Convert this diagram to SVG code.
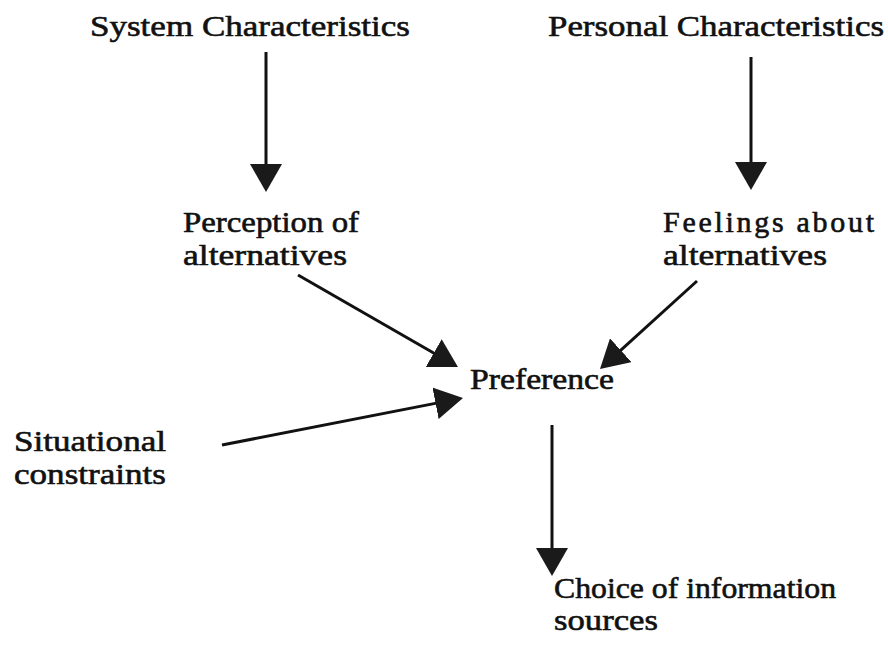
<svg xmlns="http://www.w3.org/2000/svg" width="888" height="647" viewBox="0 0 888 647">
<style>
  .lbl { font-family: "Liberation Serif", "DejaVu Serif", serif; font-size: 30px; fill: #111; stroke: #111; stroke-width: 0.6px; }
  .conn { stroke: #111; stroke-width: 3; fill: none; }
</style>
<defs>
  <marker id="head" viewBox="0 0 28 32" refX="18" refY="16" markerWidth="28" markerHeight="32" markerUnits="userSpaceOnUse" orient="auto">
    <path d="M0,0 L28,16 L0,32 z" fill="#1a1a1a"/>
  </marker>
</defs>
<rect width="888" height="647" fill="#fff"/>
<g id="system">
  <text class="lbl" x="90" y="36" textLength="320" lengthAdjust="spacingAndGlyphs">System Characteristics</text>
</g>
<g id="personal">
  <text class="lbl" x="548" y="36" textLength="336" lengthAdjust="spacingAndGlyphs">Personal Characteristics</text>
</g>
<g id="perception">
  <text class="lbl" x="183" y="232" textLength="176" lengthAdjust="spacingAndGlyphs">Perception of</text>
  <text class="lbl" x="183" y="265" textLength="164" lengthAdjust="spacingAndGlyphs">alternatives</text>
</g>
<g id="feelings">
  <text class="lbl" x="663" y="232" textLength="211" lengthAdjust="spacing">Feelings about</text>
  <text class="lbl" x="663" y="265" textLength="164" lengthAdjust="spacingAndGlyphs">alternatives</text>
</g>
<g id="preference">
  <text class="lbl" x="470" y="389" textLength="144" lengthAdjust="spacingAndGlyphs">Preference</text>
</g>
<g id="situational">
  <text class="lbl" x="14" y="451" textLength="152" lengthAdjust="spacingAndGlyphs">Situational</text>
  <text class="lbl" x="14" y="484" textLength="152" lengthAdjust="spacingAndGlyphs">constraints</text>
</g>
<g id="choice">
  <text class="lbl" x="554" y="598" textLength="282" lengthAdjust="spacingAndGlyphs">Choice of information</text>
  <text class="lbl" x="554" y="630" textLength="104" lengthAdjust="spacingAndGlyphs">sources</text>
</g>
<g id="connectors">
  <line class="conn" x1="266" y1="52" x2="266" y2="182" marker-end="url(#head)"/>
  <line class="conn" x1="751" y1="57" x2="751" y2="180" marker-end="url(#head)"/>
  <line class="conn" x1="298" y1="275" x2="449.3" y2="362" marker-end="url(#head)"/>
  <line class="conn" x1="697" y1="281" x2="607.4" y2="362.3" marker-end="url(#head)"/>
  <line class="conn" x1="222" y1="445" x2="453.2" y2="399.9" marker-end="url(#head)"/>
  <line class="conn" x1="552" y1="425" x2="552" y2="566" marker-end="url(#head)"/>
</g>
</svg>
